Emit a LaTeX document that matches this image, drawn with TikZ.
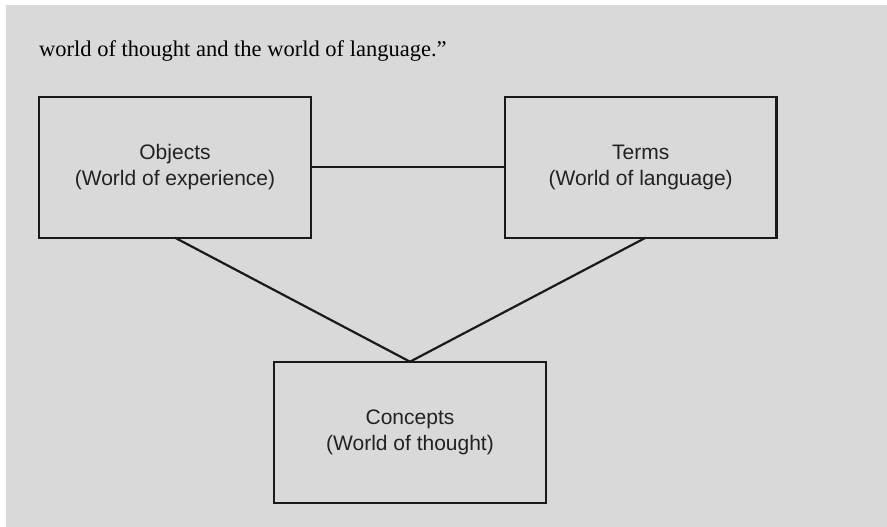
\documentclass[tikz,border=0pt]{standalone}
\usepackage{fontspec}
\setmainfont{Liberation Serif}
\newfontfamily\boxfont{Liberation Sans}
\definecolor{panel}{HTML}{D9D9D9}
\definecolor{ink}{HTML}{1A1A1A}
\definecolor{label}{HTML}{222222}
\begin{document}
\begin{tikzpicture}[x=1pt,y=-1pt,
  worldbox/.style={draw=ink, line width=2.2pt, minimum width=271.5pt,
    minimum height=141pt, inner sep=0pt, outer sep=0pt, align=center,
    text=label, font=\boxfont\fontsize{21}{25.7}\selectfont},
  link/.style={draw=ink, line width=2.2pt}]
  % page and grey panel
  \fill[white] (0,0) rectangle (887,527);
  \fill[panel] (6,5) rectangle (887,527);
  \useasboundingbox (0,0) rectangle (887,527);

  % closing line of the quotation
  \node[anchor=base west, inner sep=0pt, text=black,
        font=\fontsize{22.5}{27}\selectfont] (quote) at (39,57)
    {world of thought and the world of language.”};

  % the three worlds
  \node[worldbox] (objects)  at (175,167.2) {Objects\\(World of experience)};
  \node[worldbox] (terms)    at (640.7,167.2) {Terms\\(World of language)};
  \node[worldbox] (concepts) at (410,432.2) {Concepts\\(World of thought)};

  % connections
  \draw[link] (objects.east) -- (terms.west);
  \draw[link] (objects.south) -- (concepts.north);
  \draw[link] ([xshift=5pt]terms.south) -- (concepts.north);
\end{tikzpicture}
\end{document}
